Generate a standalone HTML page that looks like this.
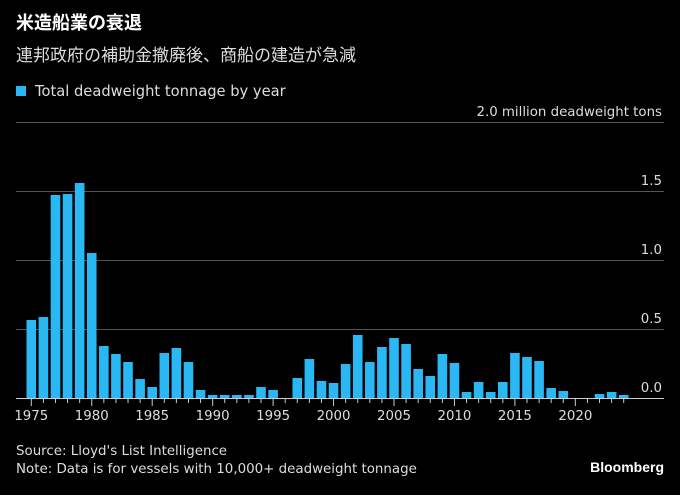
<!DOCTYPE html><html><head><meta charset="utf-8"><style>
body{margin:0;width:680px;height:490px;background:#000;overflow:hidden;font-family:"Liberation Sans","Noto Sans CJK JP",sans-serif;color:#fff}
</style></head><body>
<svg width="680" height="490" xmlns="http://www.w3.org/2000/svg" font-family="Liberation Sans, Noto Sans CJK JP, sans-serif">
<text x="16" y="29" font-size="18" font-weight="bold" fill="#fff">米造船業の衰退</text>
<text x="16" y="61" font-size="17" fill="#ddd">連邦政府の補助金撤廃後、商船の建造が急減</text>
<rect x="16" y="86" width="10" height="10" fill="#2ab8f5"/>
<g font-family="DejaVu Sans, sans-serif">
<text x="35" y="96" font-size="14.7" fill="#ddd">Total deadweight tonnage by year</text>
<g stroke="#555" stroke-width="1">
<line x1="16" y1="122.5" x2="664" y2="122.5"/><line x1="16" y1="191.5" x2="664" y2="191.5"/>
<line x1="16" y1="260.5" x2="664" y2="260.5"/><line x1="16" y1="329.5" x2="664" y2="329.5"/>
</g>
<g font-size="13.35" fill="#ddd" text-anchor="end">
<text x="662" y="116">2.0 million deadweight tons</text>
<text x="662" y="185">1.5</text><text x="662" y="254">1.0</text>
<text x="662" y="323">0.5</text><text x="662" y="392">0.0</text>
</g>
<g id="bars" fill="#2ab8f5"></g>
<line x1="16" y1="398.5" x2="664" y2="398.5" stroke="#ccc"/>
<g id="ticks" stroke="#ccc"></g>
<g id="lbl" font-size="13.35" fill="#ddd" text-anchor="middle"></g>
<text x="16" y="455" font-size="13.4" fill="#ddd">Source: Lloyd's List Intelligence</text>
<text x="16" y="473" font-size="13.4" fill="#ddd">Note: Data is for vessels with 10,000+ deadweight tonnage</text>
</g>
<text x="664" y="472" font-size="14" font-weight="bold" fill="#fff" text-anchor="end">Bloomberg</text>
</svg>
<script>
var tops=[320,317,195,194,183,253,346,354,362,379,387,353,348,362,390,395,395,395,395,387,390,398,378,359,381,383,364,335,362,347,338,344,369,376,354,363,392,382,392,382,353,357,361,388,391,398,398,394,392,395];
var ns="http://www.w3.org/2000/svg",b=document.getElementById('bars'),t=document.getElementById('ticks'),l=document.getElementById('lbl');
tops.forEach(function(y,i){var cx=31.3+i*12.09;
if(y<398){var r=document.createElementNS(ns,'rect');r.setAttribute('x',cx-4.8);r.setAttribute('y',y);r.setAttribute('width',9.6);r.setAttribute('height',398-y);b.appendChild(r);}
var yr=1975+i,m=yr%5==0;var ln=document.createElementNS(ns,'line');ln.setAttribute('x1',cx);ln.setAttribute('x2',cx);ln.setAttribute('y1',399);ln.setAttribute('y2',m?406:403);t.appendChild(ln);
if(m){var tx=document.createElementNS(ns,'text');tx.setAttribute('x',cx);tx.setAttribute('y',420);tx.textContent=yr;l.appendChild(tx);}
});
</script>
</body></html>
